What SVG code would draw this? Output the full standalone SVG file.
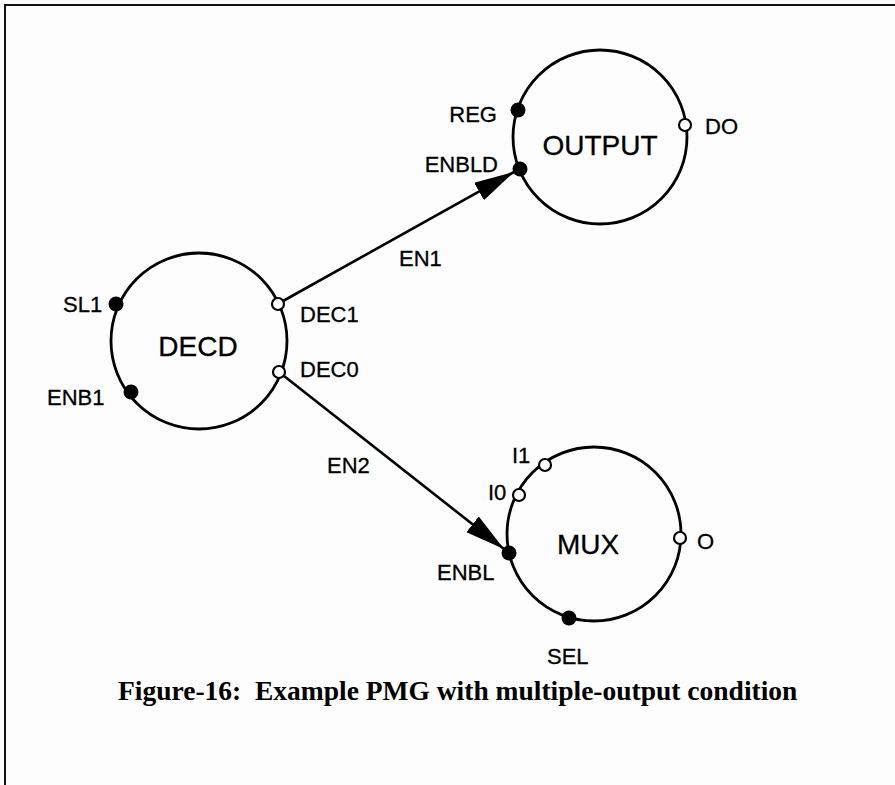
<svg xmlns="http://www.w3.org/2000/svg" width="895" height="785" viewBox="0 0 895 785">
<style>
.bg{fill:#fdfdfd}
.frame{fill:none;stroke:#111;stroke-width:2}
.node{fill:none;stroke:#000;stroke-width:2.8}
.pin{fill:#000}
.opin{fill:#fff;stroke:#000;stroke-width:2.2}
.name{font-family:"Liberation Sans",Arial,sans-serif;font-size:28px;fill:#000;stroke:#000;stroke-width:0.3;text-anchor:middle}
.lbl{font-family:"Liberation Sans",Arial,sans-serif;font-size:22px;fill:#000;stroke:#000;stroke-width:0.3}
.end{text-anchor:end}
.edge{stroke:#000;stroke-width:2.6;fill:none}
.cap{font-family:"Liberation Serif","Times New Roman",serif;font-size:27.5px;font-weight:bold;fill:#000}
</style>
<defs>
<marker id="arr" markerUnits="userSpaceOnUse" markerWidth="40" markerHeight="20" viewBox="0 0 36 18" refX="36" refY="9" orient="auto">
<path d="M0,0 L36,9 L0,18 Z" fill="#000"/>
</marker>
</defs>
<rect class="bg" x="0" y="0" width="895" height="785"/>
<path class="frame" d="M5,785 L5,5 L895,5"/>

<g id="edges">
<line class="edge" x1="283" y1="301" x2="514" y2="172" marker-end="url(#arr)"/>
<text class="lbl" x="399" y="266">EN1</text>
<line class="edge" x1="284" y1="376" x2="504" y2="549" marker-end="url(#arr)"/>
<text class="lbl" x="327" y="473">EN2</text>
</g>

<g id="OUTPUT">
<circle class="node" cx="600" cy="137" r="87"/>
<text class="name" x="600" y="155">OUTPUT</text>
<circle class="pin" cx="518" cy="110" r="7.5"/>
<text class="lbl end" x="497" y="122">REG</text>
<circle class="pin" cx="520" cy="169" r="7.5"/>
<text class="lbl end" x="498" y="172">ENBLD</text>
<circle class="opin" cx="685" cy="125" r="6"/>
<text class="lbl" x="705" y="134">DO</text>
</g>

<g id="DECD">
<circle class="node" cx="199" cy="341" r="88"/>
<text class="name" x="198" y="356">DECD</text>
<circle class="pin" cx="116" cy="304" r="7.5"/>
<text class="lbl" x="63" y="312">SL1</text>
<circle class="pin" cx="131" cy="392" r="7.5"/>
<text class="lbl" x="47" y="405">ENB1</text>
<circle class="opin" cx="278" cy="304" r="6"/>
<text class="lbl" x="300" y="322">DEC1</text>
<circle class="opin" cx="279" cy="372" r="6"/>
<text class="lbl" x="300" y="377">DEC0</text>
</g>

<g id="MUX">
<circle class="node" cx="594" cy="534" r="87"/>
<text class="name" x="588" y="554">MUX</text>
<circle class="opin" cx="545" cy="465" r="6"/>
<text class="lbl" x="512" y="463">I1</text>
<circle class="opin" cx="519" cy="495" r="6"/>
<text class="lbl" x="488" y="500">I0</text>
<circle class="pin" cx="509" cy="553" r="7.5"/>
<text class="lbl" x="437" y="580">ENBL</text>
<circle class="opin" cx="680" cy="538" r="6"/>
<text class="lbl" x="697" y="549">O</text>
<circle class="pin" cx="569" cy="618" r="7.5"/>
<text class="lbl" x="547" y="664">SEL</text>
</g>

<text class="cap" x="118" y="700">Figure-16:&#160; Example PMG with multiple-output condition</text>
</svg>
